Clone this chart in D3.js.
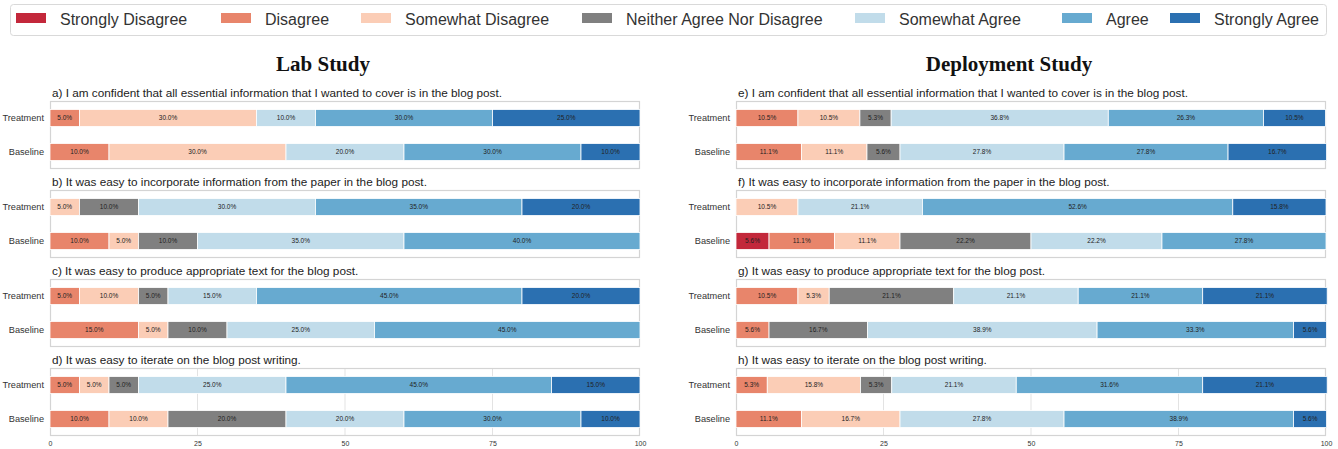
<!DOCTYPE html>
<html><head><meta charset="utf-8">
<script src="https://cdn.jsdelivr.net/npm/d3@7"></script>
<style>body{margin:0;background:#fff;} svg{display:block;}</style>
</head><body>
<svg id="chart" width="1338" height="449"></svg>
<script>
const categories = ["Strongly Disagree","Disagree","Somewhat Disagree","Neither Agree Nor Disagree","Somewhat Agree","Agree","Strongly Agree"];
const colors = ["#c3283b","#e8856b","#fbcdb6","#808080","#c1dcea","#67aad0","#2b70b1"];
const groups = ["Treatment","Baseline"];
const studyTitles = ["Lab Study","Deployment Study"];
const labQuestions = [
  "a) I am confident that all essential information that I wanted to cover is in the blog post.",
  "b) It was easy to incorporate information from the paper in the blog post.",
  "c) It was easy to produce appropriate text for the blog post.",
  "d) It was easy to iterate on the blog post writing."];
const depQuestions = [
  "e) I am confident that all essential information that I wanted to cover is in the blog post.",
  "f) It was easy to incorporate information from the paper in the blog post.",
  "g) It was easy to produce appropriate text for the blog post.",
  "h) It was easy to iterate on the blog post writing."];
// percentages per category, order as categories
const labTreatment = [
  [0,5,30,0,10,30,25],
  [0,0,5,10,30,35,20],
  [0,5,10,5,15,45,20],
  [0,5,5,5,25,45,15]];
const labBaseline = [
  [0,10,30,0,20,30,10],
  [0,10,5,10,35,40,0],
  [0,15,5,10,25,45,0],
  [0,10,10,20,20,30,10]];
const depTreatment = [
  [0,10.5,10.5,5.3,36.8,26.3,10.5],
  [0,0,10.5,0,21.1,52.6,15.8],
  [0,10.5,5.3,21.1,21.1,21.1,21.1],
  [0,5.3,15.8,5.3,21.1,31.6,21.1]];
const depBaseline = [
  [0,11.1,11.1,5.6,27.8,27.8,16.7],
  [5.6,11.1,11.1,22.2,22.2,27.8,0],
  [0,5.6,0,16.7,38.9,33.3,5.6],
  [0,11.1,16.7,0,27.8,38.9,5.6]];
const xTicks = [0,25,50,75,100];

const svg = d3.select("#chart");
const FONT = "'Liberation Sans', Arial, sans-serif";

// Legend
const lg = svg.append("g");
lg.append("rect").attr("x",10.5).attr("y",4.5).attr("width",1316).attr("height",31)
  .attr("rx",3).attr("fill","#fff").attr("stroke","#d9d9d9");
const legendX = [16,221,361,582,855,1062,1170];
categories.forEach((c,i)=>{
  lg.append("rect").attr("x",legendX[i]).attr("y",13).attr("width",30).attr("height",10).attr("fill",colors[i]);
  lg.append("text").attr("x",legendX[i]+44).attr("y",24.5).text(c)
    .attr("font-family",FONT).attr("font-size",16).attr("fill","#333");
});

const panelLeft = [50,736];
const panelW = 590;
const panelTop0 = 101;
const panelStep = 89;
const panelH = 68;

const studies = [
  {title:studyTitles[0], q:labQuestions, t:labTreatment, b:labBaseline},
  {title:studyTitles[1], q:depQuestions, t:depTreatment, b:depBaseline}];

studies.forEach((s,si)=>{
  const x = d3.scaleLinear().domain([0,100]).range([panelLeft[si], panelLeft[si]+panelW]);
  svg.append("text").attr("x",(panelLeft[si]+panelLeft[si]+panelW)/2 - 22).attr("y",71)
    .attr("text-anchor","middle").attr("font-family","'Liberation Serif','Times New Roman',serif")
    .attr("font-weight","bold").attr("font-size",21).attr("fill","#111").text(s.title);
  s.q.forEach((qt,qi)=>{
    const top = panelTop0 + qi*panelStep;
    const g = svg.append("g");
    g.append("text").attr("x",panelLeft[si]+2).attr("y",top-4.5).text(qt)
      .attr("font-family",FONT).attr("font-size",11.75).attr("fill","#222");
    if(qi===3){
      g.selectAll("line.grid").data(xTicks.slice(1,-1)).join("line")
        .attr("x1",d=>x(d)).attr("x2",d=>x(d)).attr("y1",top).attr("y2",top+panelH)
        .attr("stroke","#e3e3e3").attr("stroke-width",1);
      const ax = svg.append("g").attr("transform",`translate(0,${top+panelH})`)
        .call(d3.axisBottom(x).tickValues(xTicks).tickSize(0).tickPadding(5));
      ax.select(".domain").remove();
      ax.selectAll("text").attr("font-family",FONT).attr("font-size",7).attr("fill","#333");
    }
    g.append("rect").attr("x",panelLeft[si]+0.5).attr("y",top+0.5).attr("width",panelW-1).attr("height",panelH-1)
      .attr("fill","none").attr("stroke","#d4d4d4").attr("stroke-width",1.2);
    const barH = 17;
    [s.t[qi], s.b[qi]].forEach((vals,gi)=>{
      const cy = top + (gi===0 ? 17 : 51);
      let acc = 0;
      const segs = vals.map((v,ci)=>{const o={v,ci,x0:acc}; acc+=v; return o;}).filter(d=>d.v>0);
      g.selectAll(null).data(segs).join("rect")
        .attr("x",d=>x(d.x0)).attr("y",cy-barH/2).attr("width",d=>x(d.x0+d.v)-x(d.x0)).attr("height",barH)
        .attr("fill",d=>colors[d.ci]).attr("stroke","#fff").attr("stroke-width",0.8);
      g.selectAll(null).data(segs).join("text")
        .attr("x",d=>x(d.x0+d.v/2)).attr("y",cy+2.3).attr("text-anchor","middle")
        .attr("font-family",FONT).attr("font-size",6.5)
        .attr("fill","#222").text(d=>d.v.toFixed(1)+"%");
      g.append("text").attr("x",panelLeft[si]-6).attr("y",cy+3.3).attr("text-anchor","end")
        .attr("font-family",FONT).attr("font-size",9.2).attr("fill","#333").text(groups[gi]);
    });
  });
});
</script>
</body></html>
